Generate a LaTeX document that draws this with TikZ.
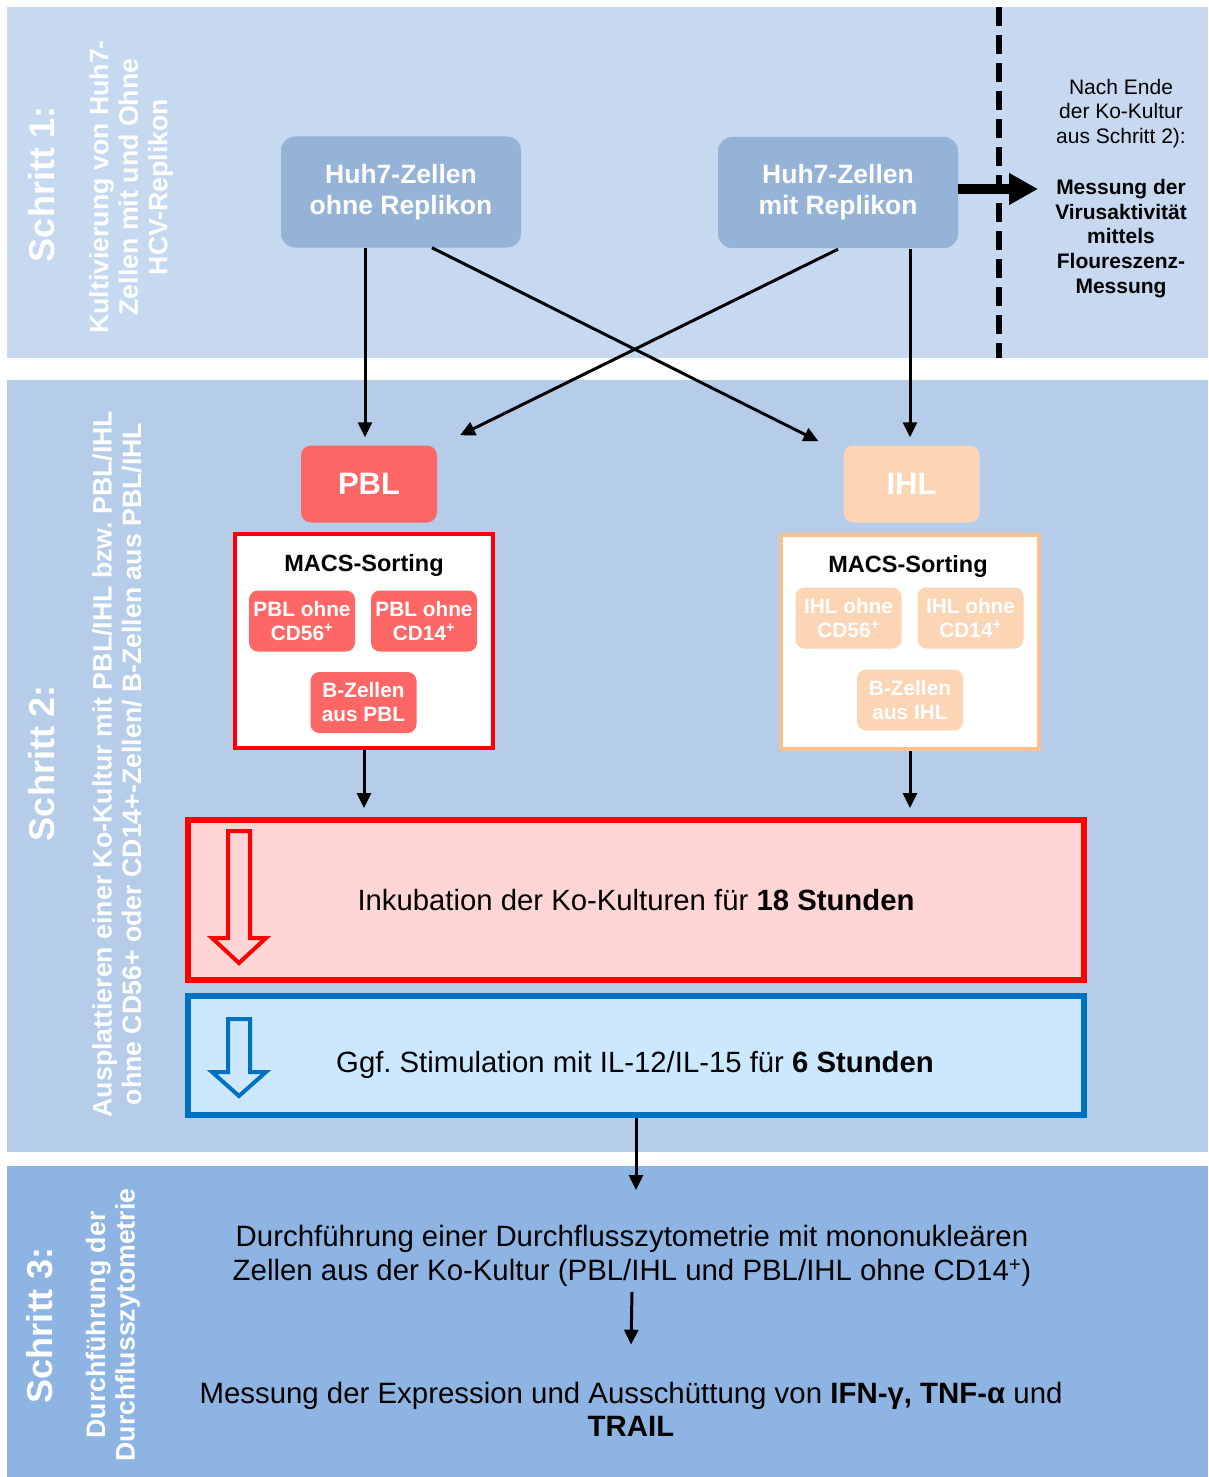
\documentclass[tikz,border=0pt]{standalone}
\usepackage{fontspec}
\setmainfont{Liberation Sans}
\usetikzlibrary{arrows.meta,calc}
\definecolor{pone}{RGB}{198,217,241}
\definecolor{ptwo}{RGB}{182,205,233}
\definecolor{pthree}{RGB}{142,180,227}
\definecolor{huhc}{RGB}{149,179,215}
\definecolor{pblc}{RGB}{255,102,102}
\definecolor{ihlc}{RGB}{252,213,181}
\definecolor{ihlb}{RGB}{250,192,143}
\definecolor{redfill}{RGB}{255,213,213}
\definecolor{bluefill}{RGB}{204,232,255}
\definecolor{blueline}{RGB}{0,112,192}
\newcommand\fsz[2]{\fontsize{#1}{#2}\selectfont}
\begin{document}
\frenchspacing
\begin{tikzpicture}[x=1pt,y=-1pt,
  huh/.style={fill=huhc, rounded corners=14, text=white, font=\bfseries\fsz{26.5}{31}, align=center, minimum width=240, minimum height=111, inner sep=0},
  cell/.style={rounded corners=10, minimum width=136, minimum height=77, font=\bfseries\fsz{31}{36}, text=white, inner sep=0},
  macs/.style={fill=white, line width=4, minimum width=258, minimum height=214, inner sep=0},
  subbox/.style={rounded corners=9, minimum width=106, minimum height=61, text=white, font=\bfseries\fsz{20.8}{24}, align=center, inner sep=0},
  stagebox/.style={line width=6, minimum width=896, minimum height=160, inner sep=0, font=\fsz{29.3}{34}},
  arr/.style={line width=3, -{Triangle[length=15,width=14]}},
  sidetext/.style={rotate=90, text=white, font=\bfseries\fsz{26.7}{29.5}, align=center},
  titletext/.style={rotate=90, text=white, font=\bfseries\fsz{36}{40}},
  hollow/.style={line width=4, line join=miter}
]
\useasboundingbox (0,0) rectangle (1208,1477);
\fill[white] (0,0) rectangle (1208,1477);
\fill[pone] (7,7) rectangle (1208,358);
\fill[ptwo] (7,380) rectangle (1208,1152);
\fill[pthree] (7,1166) rectangle (1208,1477);

% side labels
\node[titletext] (t1) at (42,184) {Schritt 1:};
\node[sidetext] (st1) at (131,187) {Kultivierung von Huh7-\\Zellen mit und Ohne\\HCV-Replikon};
\node[titletext] (t2) at (42,763) {Schritt 2:};
\node[sidetext] (st2) at (117,764) {Ausplattieren einer Ko-Kultur mit PBL/IHL bzw. PBL/IHL\\ohne CD56+ oder CD14+-Zellen/ B-Zellen aus PBL/IHL};
\node[titletext] (t3) at (40,1325) {Schritt 3:};
\node[sidetext] (st3) at (113,1325) {Durchführung der\\Durchflusszytometrie};

% dashed separator
\draw[line width=6, dash pattern=on 19 off 9] (999,7) -- (999,358);

% step 1 boxes
\node[huh] (h1) at (401,192) {Huh7-Zellen\\ohne Replikon};
\node[huh] (h2) at (838,192.5) {Huh7-Zellen\\mit Replikon};

\node[font=\fsz{21}{24.5}, align=center] (n1) at (1121,113.5) {Nach Ende\\der Ko-Kultur\\aus Schritt 2):};
\node[font=\bfseries\fsz{21}{24.7}, align=center] (n2) at (1121,238.5) {Messung der\\Virusaktivität\\mittels\\Floureszenz-\\Messung};
\coordinate (vt) at (1038,189);
\draw[line width=10, -{Triangle[length=29,width=30]}] (h2.east |- vt) -- (vt);

% PBL / IHL
\node[cell, fill=pblc] (pbl) at (369,484) {PBL};
\node[cell, fill=ihlc] (ihl) at (911.5,484) {IHL};

\draw[arr] ([xshift=-36]h1.south) -- ([xshift=-4,yshift=8]pbl.north);
\draw[arr] ([xshift=31]h1.south) -- ([xshift=-93,yshift=4]ihl.north);
\draw[arr] ([yshift=-1]h2.south) -- ([xshift=91,yshift=10]pbl.north);
\draw[arr] ([xshift=72,yshift=-1]h2.south) -- ([xshift=-1.5,yshift=8]ihl.north);

% MACS boxes
\node[macs, draw=red] (m1) at (364,641) {};
\node[macs, draw=ihlb] (m2) at (910,642) {};
\node[font=\bfseries\fsz{23.5}{28}] (mt1) at (364,565) {MACS-Sorting};
\node[font=\bfseries\fsz{23.5}{28}] (mt2) at (908,566) {MACS-Sorting};
\node[subbox, fill=pblc] (s11) at (302,621) {PBL ohne\\CD56\textsuperscript{+}};
\node[subbox, fill=pblc] (s12) at (424,621) {PBL ohne\\CD14\textsuperscript{+}};
\node[subbox, fill=pblc] (s13) at (363.5,702.5) {B-Zellen\\aus PBL};
\node[subbox, fill=ihlc] (s21) at (848.5,618) {IHL ohne\\CD56\textsuperscript{+}};
\node[subbox, fill=ihlc] (s22) at (970.5,618) {IHL ohne\\CD14\textsuperscript{+}};
\node[subbox, fill=ihlc] (s23) at (910,700) {B-Zellen\\aus IHL};

% stage boxes
\node[stagebox, draw=red, fill=redfill] (inc) at (636,900) {Inkubation der Ko-Kulturen für \textbf{18 Stunden}};
\node[stagebox, draw=blueline, fill=bluefill, minimum height=119] (blu) at (636,1055.5) {};
\node[font=\fsz{29.3}{34}] (gg) at (635,1065) {Ggf. Stimulation mit IL-12/IL-15 für \textbf{6 Stunden}};

\draw[arr] (m1.south) -- ($(m1.south |- inc.north)+(0,-9)$);
\draw[arr] (m2.south) -- ($(m2.south |- inc.north)+(0,-9)$);

\draw[hollow, draw=red] (228,831) -- (250,831) -- (250,938) -- (266,938) -- (239,963) -- (212,938) -- (228,938) -- cycle;
\draw[hollow, draw=blueline] (228,1019) -- (250,1019) -- (250,1072) -- (266,1072) -- (239,1096) -- (212,1072) -- (228,1072) -- cycle;

% step 3
\node[font=\fsz{29.4}{34}, align=center, inner sep=0] (d1) at (632,1256) {Durchführung einer Durchflusszytometrie mit mononukleären\\Zellen aus der Ko-Kultur (PBL/IHL und PBL/IHL ohne CD14\textsuperscript{+})};
\node[font=\fsz{29.4}{33}, align=center, inner sep=0] (me) at (631,1409) {Messung der Expression und Ausschüttung von \textbf{IFN-γ, TNF-α} und\\\textbf{TRAIL}};
\coordinate (e1) at (636,1190);
\draw[arr] (blu.south) -- (e1);
\draw[arr] ([yshift=-5]d1.south) -- ([yshift=37]me.north);
\end{tikzpicture}
\end{document}
